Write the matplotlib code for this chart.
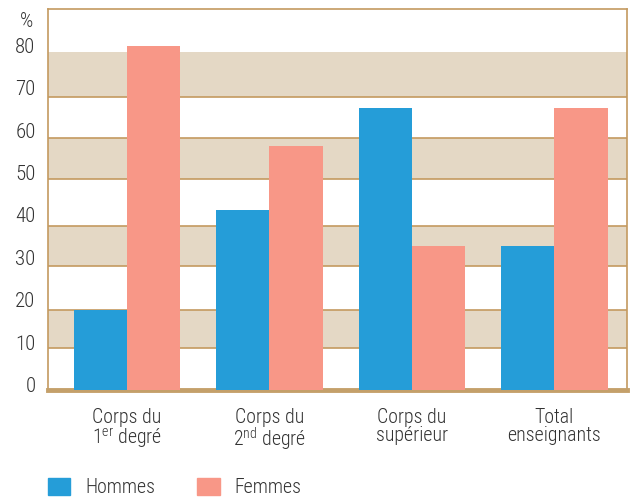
#!/usr/bin/env python3
'''
    Part des hommes et des femmes par corps d'enseignants.
'''
import numpy as np
import matplotlib.pyplot as plt
import matplotlib.transforms as mtransforms
from matplotlib.patches import Patch

categories = ["Corps du\n1$^{\\mathrm{er}}$ degré",
              "Corps du\n2$^{\\mathrm{nd}}$ degré",
              "Corps du\nsupérieur",
              "Total\nenseignants"]
hommes = [18.9, 42.5, 66.5, 34.0]
femmes = [81.2, 57.6, 34.0, 66.5]
yticks = [0, 10, 20, 30, 40, 50, 60, 70, 80]

BLUE = "#259dd8"
SALMON = "#f89787"
BEIGE = "#e4d8c5"
TAN = "#c49a60"
TEXT = "#333333"
FONT = "Roboto Condensed"
FS = 14.3

# decorative stripes (as drawn in the source)
bands = [(9.9, 18.9), (29.3, 38.7), (49.8, 59.4), (69.1, 79.7)]

plt.rcParams['font.family'] = [FONT, 'DejaVu Sans']
plt.rcParams['font.weight'] = 'light'
plt.rcParams['mathtext.fontset'] = 'custom'
plt.rcParams['mathtext.rm'] = FONT + ':light'

fig = plt.figure(figsize=(6.31, 5.0), dpi=100)
ax = fig.add_axes([0.0761, 0.22, 0.9176, 0.763])

x = np.arange(len(categories))
w = 0.375
bh = ax.bar(x - w / 2, hommes, w, color=BLUE, zorder=3)
bf = ax.bar(x + w / 2, femmes, w, color=SALMON, zorder=3)

for lo, hi in bands:
    ax.axhspan(lo, hi, color=BEIGE, lw=0, zorder=0)
    ax.axhline(lo, color=TAN, lw=1.2, zorder=1)
    if hi < 79:
        ax.axhline(hi, color=TAN, lw=1.2, zorder=1)

ax.set_xlim(-0.554, 3.509)
ax.set_ylim(0, 90)

for side in ("top", "left", "right"):
    ax.spines[side].set_color(TAN)
    ax.spines[side].set_linewidth(1.2)
ax.spines["bottom"].set_color("#c4a06a")
ax.spines["bottom"].set_linewidth(3.5)

ax.set_yticks(yticks)
ax.set_yticklabels([str(v) for v in yticks])
ax.tick_params(axis="y", length=0, pad=9, labelsize=FS + 0.7, labelcolor=TEXT)
offset = mtransforms.ScaledTranslation(0, 4 / 72, fig.dpi_scale_trans)
for lab in ax.get_yticklabels():
    lab.set_transform(lab.get_transform() + offset)

ax.set_xticks(x)
ax.set_xticklabels(categories, linespacing=0.95)
ax.tick_params(axis="x", length=0, pad=13, labelsize=FS, labelcolor=TEXT)

ax.text(-0.025, 0.965, "%", transform=ax.transAxes, ha="right", va="center",
        fontsize=FS + 0.7, color=TEXT)

fig.legend([Patch(color=BLUE), Patch(color=SALMON)], ["Hommes", "Femmes"],
           loc="lower left", bbox_to_anchor=(0.047, -0.03), ncol=2,
           frameon=False, fontsize=FS, handlelength=1.15, handleheight=0.9,
           handletextpad=0.75, columnspacing=2.1, labelcolor=TEXT)

fig.savefig("out.png", dpi=100)
